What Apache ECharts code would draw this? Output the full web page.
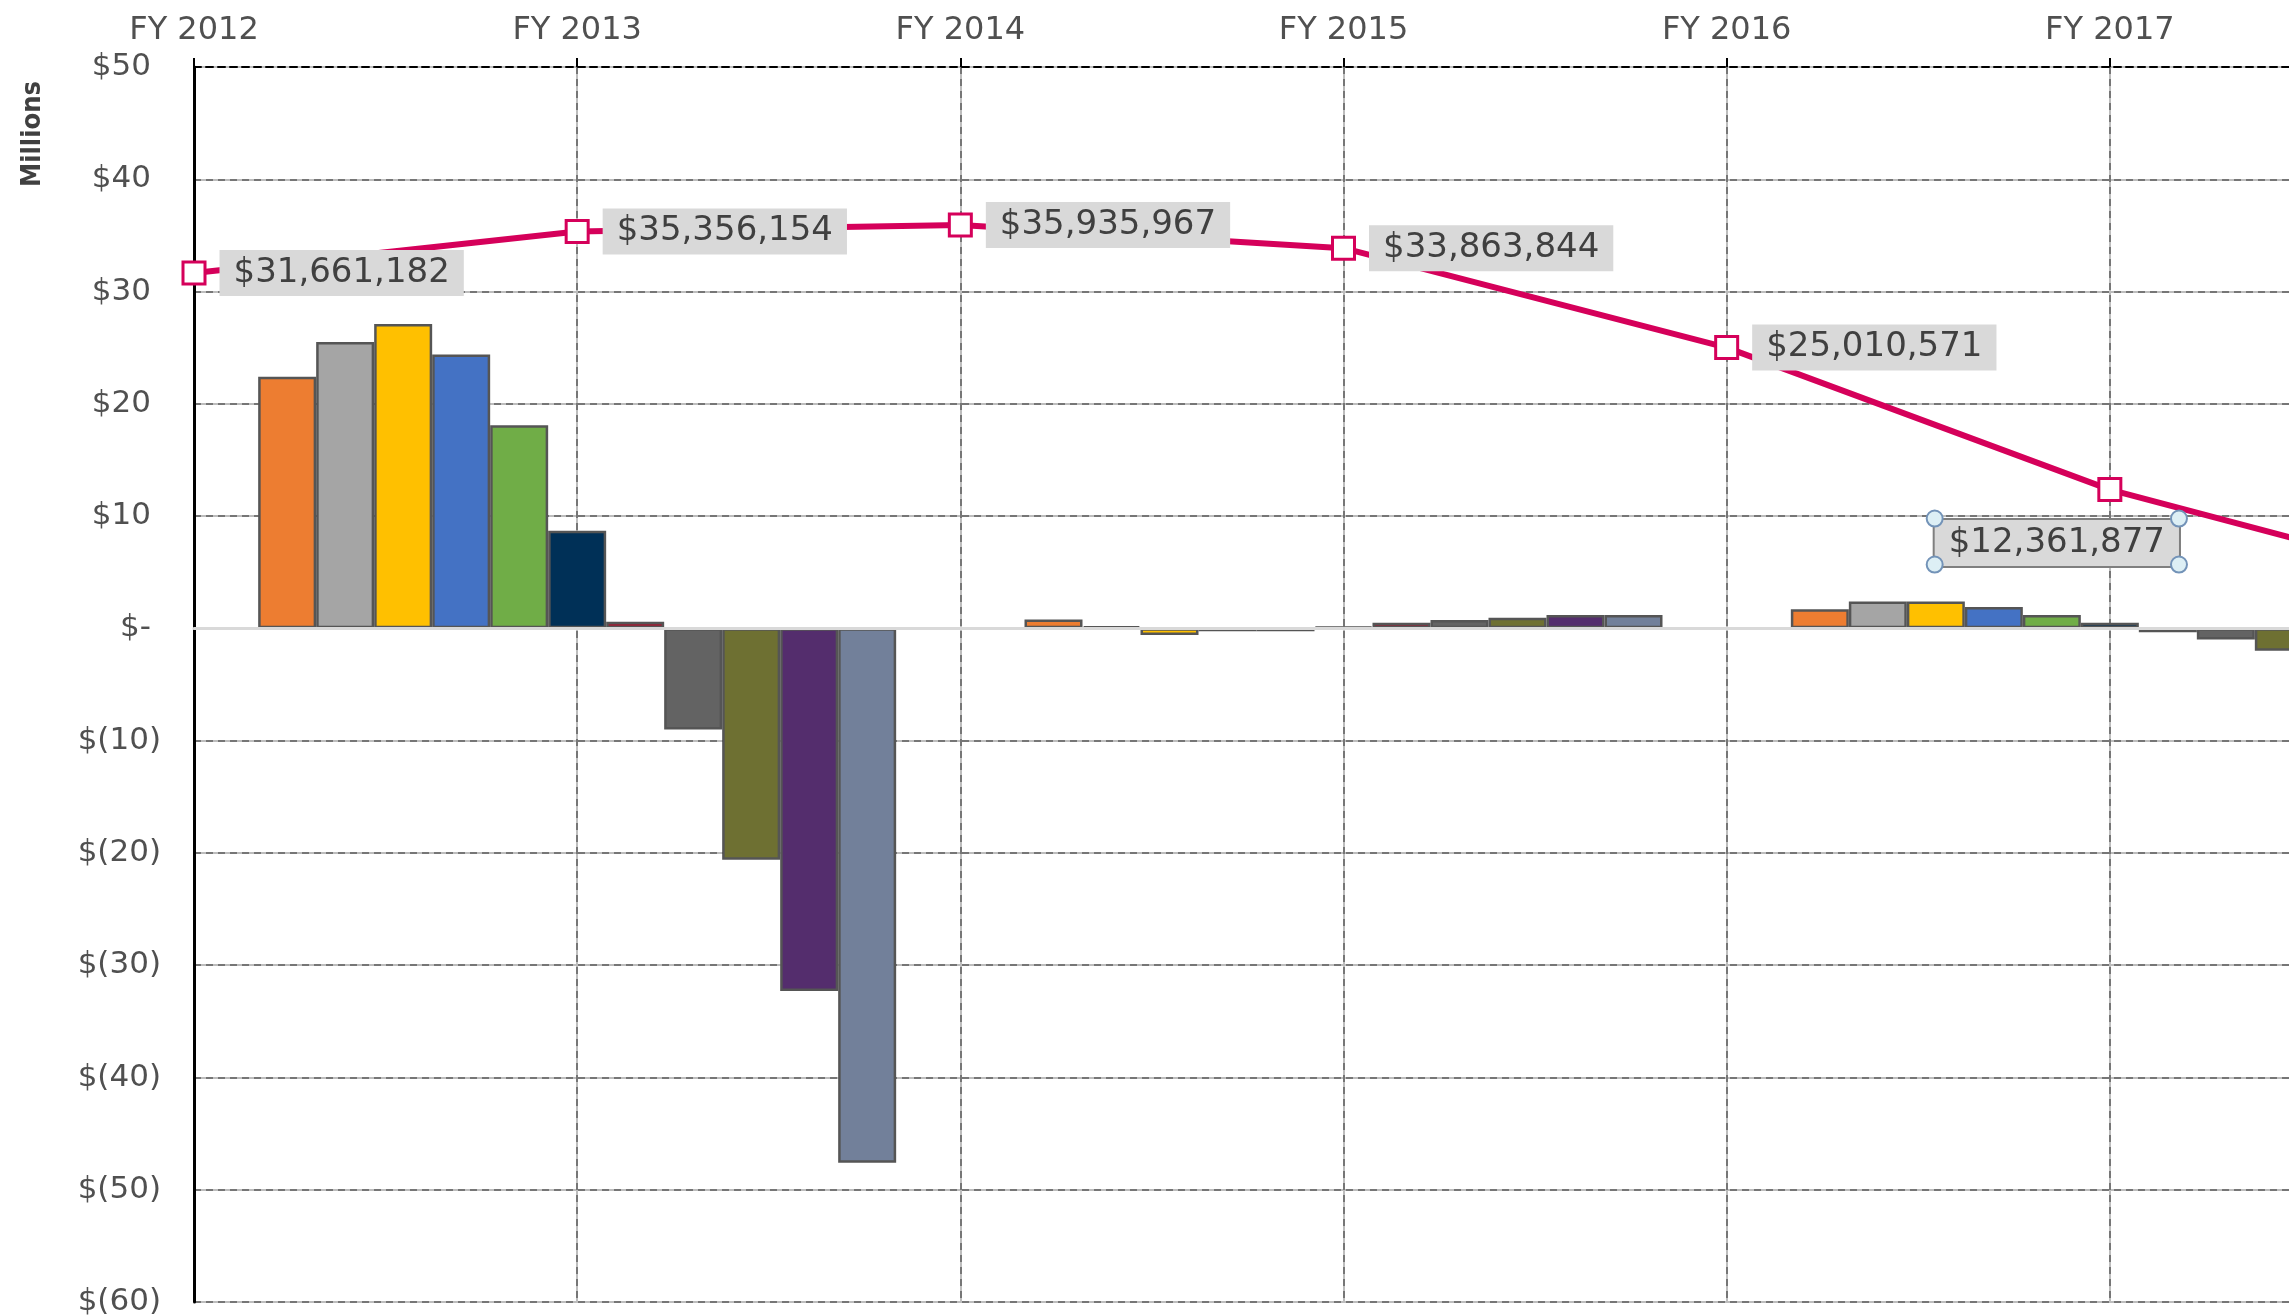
<!DOCTYPE html>
<html>
<head>
<meta charset="utf-8">
<title>Fund balance by fiscal year</title>
<script src="https://cdn.jsdelivr.net/npm/echarts@6/dist/echarts.min.js"></script>
<style>
  html, body { margin: 0; padding: 0; background: #fff; }
  #chart { width: 2289px; height: 1316px; }
</style>
</head>
<body>
<div id="chart"></div>
<script>
// fiscal years on the top axis (line points sit on these ticks)
const fyLabels = ['FY 2012', 'FY 2013', 'FY 2014', 'FY 2015', 'FY 2016', 'FY 2017', 'FY 2018']
// balance line, in dollars (last point runs off the right edge)
const lineDollars = [31661182, 35356154, 35935967, 33863844, 25010571, 12361877, 3300000]

// bar groups are centred on every second fiscal year
const groupLabels = ['FY 2013', 'FY 2015', 'FY 2017']
const barNames = ['Series 1', 'Series 2', 'Series 3', 'Series 4', 'Series 5', 'Series 6',
  'Series 7', 'Series 8', 'Series 9', 'Series 10', 'Series 11']
const barColors = ['#ED7D31', '#A5A5A5', '#FFC000', '#4472C4', '#70AD47', '#003057',
  '#9E1B32', '#636363', '#6E7032', '#542D6D', '#72809A']
// bar values, millions
const s01 = [22.4, 0.8, 1.7]
const s02 = [25.5, 0.2, 2.4]
const s03 = [27.1, -0.6, 2.4]
const s04 = [24.4, -0.25, 1.9]
const s05 = [18.1, -0.25, 1.2]
const s06 = [8.7, 0.15, 0.5]
const s07 = [0.6, 0.5, -0.35]
const s08 = [-9.0, 0.75, -1.0]
const s09 = [-20.6, 0.95, -2.0]
const s10 = [-32.3, 1.2, -3.0]
const s11 = [-47.6, 1.2, -4.0]
const barValues = [s01, s02, s03, s04, s05, s06, s07, s08, s09, s10, s11]

const yMin = -60
const yMax = 50
const yStep = 10

const FONT = 'DejaVu Sans'
const LINE_COLOR = '#D5005A'
const TEXT = '#505050'
const LABEL_SIZE = 34
const LABEL_PAD = [5, 14]
const LABEL_LH = 36
const SYMBOL = 22

const chart = echarts.init(document.getElementById('chart'))

function fmtTick(v) {
  if (v > 0) return '{p|$' + v + '}'
  if (v === 0) return '{p|$-}'
  return '{n|$(' + (-v) + ')}'
}

const tickRich = {
  p: { fontFamily: FONT, fontSize: 31, color: TEXT, padding: [0, 10, 0, 0] },
  n: { fontFamily: FONT, fontSize: 31, color: TEXT }
}

const fmtDollar = v => '$' + v.toLocaleString('en-US')

// FY 2017 label sits under its point, nudged left, with a border
const SEL = 5
const SEL_DIST = 18
const SEL_DX = -53

const lineData = lineDollars.map((v, i) => {
  const item = { value: v / 1e6 }
  if (i === SEL) {
    item.label = {
      position: 'bottom',
      distance: SEL_DIST,
      offset: [SEL_DX, 0],
      borderColor: '#7F7F7F',
      borderWidth: 2
    }
  }
  return item
})

const barSeries = barValues.map((vals, i) => ({
  name: barNames[i],
  type: 'bar',
  xAxisIndex: 1,
  yAxisIndex: 0,
  barWidth: 58,
  barGap: '0%',
  data: vals,
  itemStyle: { color: barColors[i], borderColor: '#555555', borderWidth: 2.5 },
  z: 2
}))

chart.setOption({
  animation: false,
  backgroundColor: '#fff',
  grid: { left: 194, top: 67, width: 2299, height: 1235, outerBoundsMode: 'none', containLabel: false },
  xAxis: [
    {
      // fiscal-year axis for the line, labels on top
      type: 'category',
      data: fyLabels,
      position: 'top',
      boundaryGap: false,
      z: 1,
      axisLine: { onZero: false, lineStyle: { color: '#000', width: 2, type: [7, 5] } },
      axisTick: { show: true, length: 9, lineStyle: { color: '#000', width: 2 } },
      axisLabel: { fontFamily: FONT, fontSize: 32, color: TEXT, margin: 20 },
      splitLine: { show: true, lineStyle: { color: '#767676', width: 2, type: [7, 5] } }
    },
    {
      // bar group axis, only its zero line shows
      type: 'category',
      data: groupLabels,
      position: 'bottom',
      boundaryGap: true,
      z: 3,
      axisLine: { onZero: true, lineStyle: { color: '#D9D9D9', width: 3 } },
      axisTick: { show: false },
      axisLabel: { show: false },
      splitLine: { show: false }
    },
    {
      // light gaps under the dashed vertical grid
      type: 'category',
      data: fyLabels,
      position: 'top',
      boundaryGap: false,
      z: 0,
      axisLine: { show: false },
      axisTick: { show: false },
      axisLabel: { show: false },
      splitLine: { show: true, lineStyle: { color: '#BDBDBD', width: 2 } }
    }
  ],
  yAxis: [
    {
      type: 'value',
      min: yMin,
      max: yMax,
      interval: yStep,
      z: 1,
      axisLine: { show: true, lineStyle: { color: '#000', width: 3 } },
      axisTick: { show: false },
      axisLabel: { margin: 33, formatter: fmtTick, rich: tickRich },
      splitLine: { show: true, lineStyle: { color: '#767676', width: 2, type: [7, 5] } }
    },
    {
      type: 'value',
      min: yMin,
      max: yMax,
      interval: yStep,
      z: 0,
      axisLine: { show: false },
      axisTick: { show: false },
      axisLabel: { show: false },
      splitLine: { show: true, lineStyle: { color: '#BDBDBD', width: 2 } }
    }
  ],
  series: barSeries.concat([{
    name: 'Balance',
    type: 'line',
    xAxisIndex: 0,
    yAxisIndex: 0,
    data: lineData,
    z: 5,
    symbol: 'rect',
    symbolSize: SYMBOL,
    lineStyle: { color: LINE_COLOR, width: 6 },
    itemStyle: { color: '#fff', borderColor: LINE_COLOR, borderWidth: 3 },
    label: {
      show: true,
      position: 'right',
      distance: 13,
      fontFamily: FONT,
      fontSize: LABEL_SIZE,
      lineHeight: LABEL_LH,
      color: '#404040',
      backgroundColor: '#D9D9D9',
      padding: LABEL_PAD,
      formatter: p => fmtDollar(lineDollars[p.dataIndex])
    }
  }])
})

// selection handles on the corners of the FY 2017 label box
const pt = chart.convertToPixel({ xAxisIndex: 0, yAxisIndex: 0 }, [SEL, lineDollars[SEL] / 1e6])
const ctx = document.createElement('canvas').getContext('2d')
ctx.font = LABEL_SIZE + 'px ' + FONT
const boxW = ctx.measureText(fmtDollar(lineDollars[SEL])).width + LABEL_PAD[1] * 2
const boxH = LABEL_LH + LABEL_PAD[0] * 2
const boxL = pt[0] + SEL_DX - boxW / 2
const boxR = boxL + boxW
const boxT = pt[1] + SYMBOL / 2 + SEL_DIST
const boxB = boxT + boxH
const handle = (x, y) => ({
  type: 'circle',
  shape: { cx: x, cy: y, r: 8 },
  style: { fill: '#DDEFF5', stroke: '#7393B8', lineWidth: 2 },
  z: 20
})

chart.setOption({
  graphic: [
    {
      type: 'text',
      x: 33,
      y: 134,
      rotation: Math.PI / 2,
      style: {
        text: 'Millions',
        fontFamily: 'Liberation Sans Narrow, DejaVu Sans Condensed, DejaVu Sans',
        fontWeight: 'bold',
        fontSize: 27,
        fill: '#404040',
        align: 'center',
        verticalAlign: 'middle'
      }
    },
    handle(boxL, boxT), handle(boxR, boxT), handle(boxL, boxB), handle(boxR, boxB)
  ]
})

window.addEventListener('resize', () => chart.resize())
</script>
</body>
</html>
